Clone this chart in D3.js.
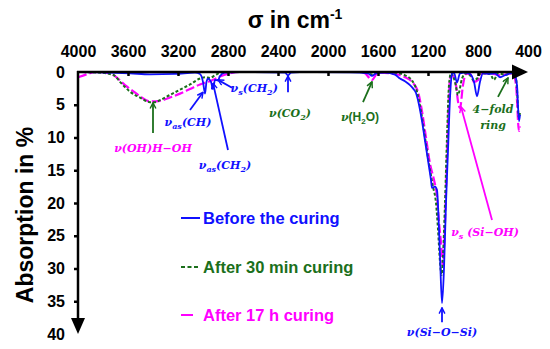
<!DOCTYPE html>
<html>
<head>
<meta charset="utf-8">
<script src="https://cdn.jsdelivr.net/npm/d3@7"></script>
<style>
  body { margin: 0; background: #fff; }
  svg { display: block; }
  text { font-family: "Liberation Sans", Arial, sans-serif; font-weight: bold; }
  .anno { font-family: "DejaVu Serif", serif; font-style: italic; font-weight: bold; font-size: 11px; }
</style>
</head>
<body>
<div id="chart"></div>
<script>
// wavenumber (cm-1) / absorption (%)
const beforeSigma = [4000, 3824, 3584, 3424, 3224, 3064, 3024, 3000, 2984, 2972, 2960, 2936, 2920, 2904, 2880, 2864, 2824, 2704, 2344, 2320, 2296, 2224, 1824, 1680, 1648, 1616, 1544, 1464, 1424, 1384, 1344, 1320, 1296, 1272, 1248, 1224, 1200, 1176, 1168, 1144, 1128, 1116, 1104, 1088, 1072, 1056, 1040, 1024, 1008, 992, 968, 944, 904, 864, 832, 808, 784, 760, 704, 664, 624, 584, 544, 512, 488, 472, 464];
const beforeAbs   = [0, 0.05, 0.2, 0.35, 0.3, 0.1, 0.3, 1.5, 3.3, 1.5, 1.0, 1.5, 2.6, 1.2, 1.3, 0.6, 0.1, 0, 0.1, 0.5, 0.1, 0, 0.05, 0.2, 0.6, 0.2, 0.1, 0.4, 1.0, 1.4, 2.0, 2.5, 3.2, 5.0, 7.5, 10.5, 13.5, 16.5, 17.7, 17.5, 18, 22, 28, 35.3, 30, 20, 12, 4, 0.3, 0.1, 1.6, 0.2, 0.1, 0.3, 1.5, 3.7, 1.5, 0.2, 0.3, 0.2, 0.8, 0.5, 0.2, 0.1, 2, 7.5, 6.5];

const min30Sigma = [4000, 3824, 3744, 3704, 3664, 3624, 3584, 3504, 3424, 3384, 3344, 3264, 3184, 3104, 3024, 2984, 2944, 2904, 2864, 2824, 1680, 1648, 1600, 1464, 1384, 1328, 1288, 1256, 1224, 1192, 1160, 1136, 1120, 1104, 1092, 1080, 1064, 1048, 1032, 1016, 984, 960, 928, 896, 864, 832, 808, 776, 704, 672, 640, 584, 528, 496, 472, 464];
const min30Abs   = [0, 0.1, 0.3, 0.6, 1.5, 2.3, 3.0, 3.9, 4.6, 4.6, 4.3, 3.5, 2.7, 1.9, 1.0, 0.8, 0.9, 0.5, 0.1, 0, 0, 0.4, 0, 0.1, 0.5, 1.3, 3, 6, 10, 14, 17.5, 20, 24, 29, 31, 28, 20, 10, 2, 0.2, 1.5, 3.5, 1, 0.2, 0.5, 1.3, 1.0, 0.2, 0.3, 1.2, 0.2, 0.4, 0.2, 1, 7, 6];

const h17Sigma = [4000, 3904, 3864, 3744, 3680, 3624, 3568, 3504, 3424, 3344, 3264, 3184, 3104, 3024, 2944, 2864, 2784, 2704, 1744, 1704, 1648, 1600, 1464, 1384, 1328, 1280, 1248, 1216, 1184, 1152, 1128, 1112, 1096, 1080, 1072, 1056, 1040, 1024, 1008, 976, 960, 944, 920, 896, 864, 832, 800, 768, 704, 624, 560, 520, 496, 472, 464];
const h17Abs   = [0.8, 0.2, 0, 0.2, 1.0, 2.0, 2.8, 3.7, 4.5, 4.4, 3.9, 3.3, 2.6, 1.9, 1.4, 0.7, 0.2, 0, 0, 0.2, 1.2, 0.1, 0.3, 0.8, 1.5, 3, 6, 10, 14, 16.5, 19, 23, 26, 29.5, 27, 18, 8, 1, 0.5, 2.0, 4.5, 5.5, 2, 0.3, 0.3, 1.5, 1.2, 0.2, 0.2, 0.5, 0.3, 0.2, 2, 9, 8.3];

const seriesNames = ["Before the curing", "After 30 min curing", "After 17 h curing"];
const xTicks = [4000, 3600, 3200, 2800, 2400, 2000, 1600, 1200, 800, 400];
const yTicks = [0, 5, 10, 15, 20, 25, 30, 35, 40];

const BLUE = "#1010ff", GREEN = "#1b6f1b", PINK = "#ff00ff";

// band assignments: text parts, colours, arrow tip / tail and label anchor in data units
const annos = [
  { parts: [["ν"], ["(OH)H−OH"]], color: PINK, arrow: GREEN, tip: [3400, 4.7], tail: [3400, 9.3], at: [3400, 12.2] },
  { parts: [["ν"], ["as", 1], ["(CH)"]], color: BLUE, arrow: BLUE, tip: [3000, 3.1], tail: [3104, 5.8], at: [3120, 8.3] },
  { parts: [["ν"], ["as", 1], ["(CH"], ["2", 1], [")"]], color: BLUE, arrow: BLUE, tip: [2920, 1.7], tail: [2800, 11.9], at: [2824, 14.8] },
  { parts: [["ν"], ["s", 1], ["(CH"], ["2", 1], [")"]], color: BLUE, arrow: BLUE, tip: [2880, 1.2], tail: [2768, 2.4], at: [2590, 3.0] },
  { parts: [["ν"], ["(CO"], ["2", 1], [")"]], color: GREEN, arrow: BLUE, tip: [2320, 0.6], tail: [2320, 3.1], at: [2304, 6.8] },
  { parts: [["ν"], ["(H", 0, 1], ["2", 1, 1], ["O)", 0, 1]], color: GREEN, arrow: GREEN, tip: [1648, 1.5], tail: [1720, 4.6], at: [1744, 7.5] },
  { parts: [["4−fold"]], color: GREEN, arrow: GREEN, tip: [560, 0.9], tail: [640, 3.8], at: [680, 6.3] },
  { parts: [["ring"]], color: GREEN, arrow: null, at: [680, 8.7] },
  { parts: [["ν"], ["s", 1], [" (Si−OH)"]], color: PINK, arrow: PINK, tip: [936, 5.3], tail: [688, 22.6], at: [744, 25.1] },
  { parts: [["ν(Si−O−Si)"]], color: BLUE, arrow: BLUE, tip: [1088, 36.0], tail: [1088, 38.2], at: [1088, 40.3] }
];

const width = 550, height = 349;
const svg = d3.select("#chart").append("svg")
  .attr("width", width)
  .attr("height", height);

const x = d3.scaleLinear().domain([4000, 400]).range([78, 528]);
const y = d3.scaleLinear().domain([0, 40]).range([72, 334]);

const line = d3.line()
  .x(d => x(d[0]))
  .y(d => y(d[1]))
  .curve(d3.curveMonotoneX);

// spectra
const series = [
  { data: d3.zip(beforeSigma, beforeAbs), color: BLUE, dash: null, w: 1.8 },
  { data: d3.zip(min30Sigma, min30Abs), color: GREEN, dash: "3,2", w: 2 },
  { data: d3.zip(h17Sigma, h17Abs), color: PINK, dash: "9,3", w: 2.2 }
];
for (let s of [series[2], series[1], series[0]]) {
  svg.append("path")
    .datum(s.data)
    .attr("fill", "none")
    .attr("stroke", s.color)
    .attr("stroke-width", s.w)
    .attr("stroke-dasharray", s.dash)
    .attr("d", line);
}

// top axis
const xAxis = d3.axisTop(x)
  .tickValues(xTicks)
  .tickSizeInner(-4)
  .tickSizeOuter(0)
  .tickPadding(15)
  .tickFormat(d3.format("d"));
const gx = svg.append("g").attr("transform", `translate(0,${y(0)})`).call(xAxis);
gx.select(".domain").remove();
gx.selectAll(".tick line").attr("stroke", "#000").attr("stroke-width", 2.5)
  .filter(d => d == 4000 || d == 400).remove();
gx.selectAll(".tick text").attr("font-size", 16).attr("font-family", null).attr("fill", "#000");

// left axis
const yAxis = d3.axisLeft(y)
  .tickValues(yTicks)
  .tickSizeInner(4)
  .tickSizeOuter(0)
  .tickPadding(9);
const gy = svg.append("g").attr("transform", `translate(${x(4000)},0)`).call(yAxis);
gy.select(".domain").remove();
gy.selectAll(".tick line").attr("stroke", "#000").attr("stroke-width", 2.5)
  .filter(d => d == 0 || d == 40).remove();
gy.selectAll(".tick text").attr("font-size", 16).attr("font-family", null).attr("fill", "#000");

// axis lines with arrows
svg.append("line")
  .attr("x1", x(4000) - 1).attr("x2", x(400) - 12)
  .attr("y1", y(0)).attr("y2", y(0))
  .attr("stroke", "#000").attr("stroke-width", 2.5);
svg.append("path")
  .attr("d", `M${x(400)},${y(0)} l-16,-7.5 l0,15 z`)
  .attr("fill", "#000");
svg.append("line")
  .attr("x1", x(4000)).attr("x2", x(4000))
  .attr("y1", y(0) - 1).attr("y2", y(40) - 12)
  .attr("stroke", "#000").attr("stroke-width", 2.5);
svg.append("path")
  .attr("d", `M${x(4000)},${y(40)} l-7,-16 l14,0 z`)
  .attr("fill", "#000");

// titles
const title = svg.append("text")
  .attr("x", (x(4000) + x(400)) / 2 - 8)
  .attr("y", 28)
  .attr("text-anchor", "middle")
  .attr("font-size", 23);
title.append("tspan").text("σ in cm");
title.append("tspan").attr("font-size", 14).attr("dy", -9).text("-1");

svg.append("text")
  .attr("transform", `translate(33,${(y(0) + y(40)) / 2 + 12}) rotate(-90)`)
  .attr("text-anchor", "middle")
  .attr("font-size", 23)
  .text("Absorption in %");

// legend
const legendY = [218, 267, 315];
const lg = svg.append("g");
series.forEach((s, i) => {
  lg.append("line")
    .attr("x1", 181).attr("x2", i == 2 ? 193 : 200)
    .attr("y1", legendY[i]).attr("y2", legendY[i])
    .attr("stroke", s.color).attr("stroke-width", 2)
    .attr("stroke-dasharray", i == 1 ? "4,2.5" : null);
  lg.append("text")
    .attr("x", 203).attr("y", legendY[i] + 6)
    .attr("font-size", 16.5)
    .attr("fill", s.color)
    .text(seriesNames[i]);
});

// markers for arrow heads
const defs = svg.append("defs");
for (let c of [BLUE, GREEN, PINK]) {
  defs.append("marker")
    .attr("id", "m" + c.slice(1))
    .attr("viewBox", "0 0 10 10")
    .attr("refX", 9).attr("refY", 5)
    .attr("markerWidth", 4).attr("markerHeight", 4)
    .attr("orient", "auto")
    .append("path")
    .attr("d", "M1,1 L9,5 L1,9")
    .attr("fill", "none")
    .attr("stroke", c)
    .attr("stroke-width", 2);
}

const ag = svg.append("g");
for (let a of annos) {
  if (a.arrow) {
    ag.append("line")
      .attr("x1", x(a.tail[0])).attr("y1", y(a.tail[1]))
      .attr("x2", x(a.tip[0])).attr("y2", y(a.tip[1]))
      .attr("stroke", a.arrow).attr("stroke-width", 1.8)
      .attr("marker-end", `url(#m${a.arrow.slice(1)})`);
  }
  const t = ag.append("text")
    .attr("class", "anno")
    .attr("x", x(a.at[0])).attr("y", y(a.at[1]))
    .attr("text-anchor", "middle")
    .attr("fill", a.color);
  let sub = false;
  for (let p of a.parts) {
    const ts = t.append("tspan").text(p[0]);
    if (p[2]) ts.style("font-family", "Liberation Sans, Arial, sans-serif").style("font-style", "normal").attr("font-size", 12);
    if (p[1] && !sub) { ts.attr("dy", 3).attr("font-size", 8); sub = true; }
    else if (!p[1] && sub) { ts.attr("dy", -3); sub = false; }
  }
}
</script>
</body>
</html>
